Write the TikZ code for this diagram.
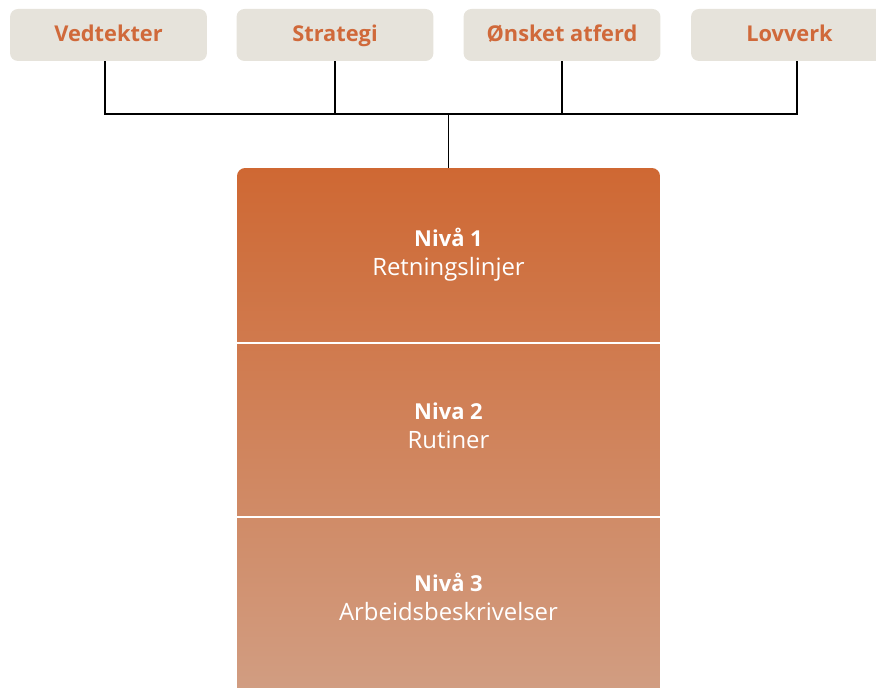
\documentclass[tikz,border=0pt]{standalone}
\usepackage{fontspec}
\setmainfont{Open Sans}
\usetikzlibrary{positioning}
\definecolor{kildefill}{HTML}{E6E3DB}
\definecolor{kildetekst}{HTML}{D0693A}
\definecolor{oransje}{HTML}{CF6833}
\definecolor{oransjemid}{HTML}{CF7546}
\definecolor{oransjelys}{HTML}{D1A086}
\newcommand{\nivatittel}[1]{{\bfseries\fontsize{12.5}{16}\selectfont #1}}

\begin{document}
\begin{tikzpicture}[x=0.02cm, y=-0.02cm,
  kilde/.style={fill=kildefill, rounded corners=4.5pt, minimum width=3.94cm,
    minimum height=1.04cm, text height=9pt, text depth=1.5pt, text=kildetekst,
    font=\bfseries\fontsize{12.4}{14}\selectfont},
  blokk/.style={top color=oransje, middle color=oransjemid, bottom color=oransjelys,
    rounded corners=4.5pt, minimum width=8.46cm, minimum height=11.04cm},
  niva/.style={text=white, align=center, font=\fontsize{13.6}{16.5}\selectfont},
  skille/.style={white, line width=1.2pt},
  linje/.style={black, line width=0.6pt}]
  \useasboundingbox (0,0) rectangle (876,688);
  % kildene
  \node[kilde] (vedtekter) at (108.5,35) {Vedtekter};
  \node[kilde] (strategi)  at (335,35)   {Strategi};
  \node[kilde] (onsket)    at (562,35)   {Ønsket atferd};
  \node[kilde] (lovverk)   at (789.5,35) {Lovverk};
  % nivaene
  \node[blokk] (hoved) at (448.5,444) {};
  \coordinate (skille1) at (0,343);
  \coordinate (skille2) at (0,517);
  \draw[skille] (hoved.west |- skille1) -- (hoved.east |- skille1);
  \draw[skille] (hoved.west |- skille2) -- (hoved.east |- skille2);
  \node[niva] (niva1) at (448.5,255)   {\nivatittel{Nivå 1}\\Retningslinjer};
  \node[niva] (niva2) at (448.5,425.5) {\nivatittel{Niva 2}\\Rutiner};
  \node[niva] (niva3) at (448.5,596.5) {\nivatittel{Nivå 3}\\Arbeidsbeskrivelser};
  % koblinger
  \coordinate (kryss) at (448.5,114);
  \draw[linje] ([xshift=-0.07cm]vedtekter.south) |- (kryss) -| ([xshift=0.15cm]lovverk.south);
  \draw[linje] (strategi.south) -- (strategi.south |- kryss);
  \draw[linje] (onsket.south) -- (onsket.south |- kryss);
  \draw[linje] (kryss) -- (hoved.north);
\end{tikzpicture}
\end{document}
